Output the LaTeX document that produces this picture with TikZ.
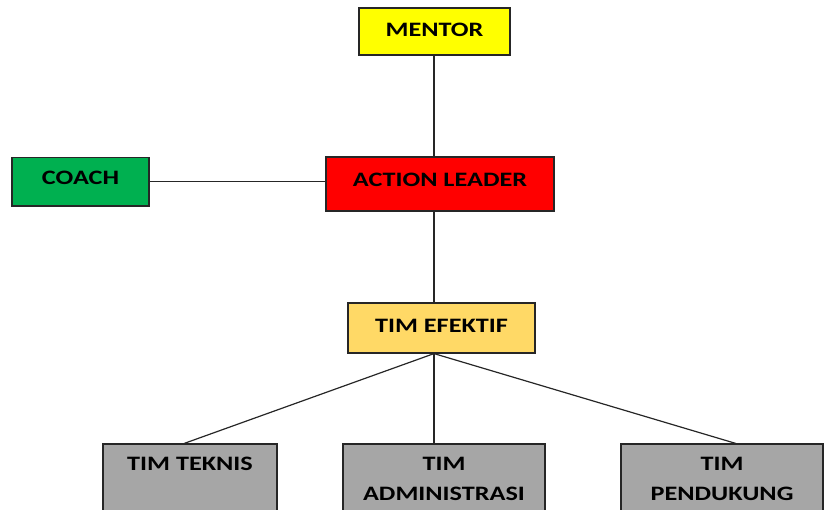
\documentclass[tikz,border=0pt]{standalone}
\usepackage{fontspec}
\usepackage{graphicx}
\setmainfont{Carlito}
\definecolor{cyel}{HTML}{FFFF00}
\definecolor{cgrn}{HTML}{00B050}
\definecolor{cred}{HTML}{FF0000}
\definecolor{cgold}{HTML}{FFD966}
\definecolor{cgry}{HTML}{A6A6A6}
\newcommand\wtx[1]{\scalebox{1.28}[1]{#1}}
\begin{document}
\begin{tikzpicture}[x=1pt,y=1pt,
  box/.style={draw=black!85, line width=1.2pt, rectangle, inner sep=0pt, font=\bfseries\fontsize{20.5}{30}\selectfont, align=center, text height=13.3pt, text depth=0pt},
  lowbox/.style={box, fill=cgry, anchor=north, minimum height=80pt, text height=, text depth=},
  link/.style={draw=black!85, line width=1.2pt}]
\useasboundingbox (0,0) rectangle (825,509);
\clip (0,0) rectangle (825,509);
\node[box, fill=cyel, minimum width=151pt, minimum height=47pt] (mentor) at (434.5,477.5) {\raisebox{2pt}{\wtx{MENTOR}}};
\node[box, fill=cgrn, minimum width=137pt, minimum height=48.7pt] (coach) at (80.5,327.3) {\raisebox{3.4pt}{\wtx{COACH}}};
\node[box, fill=cred, minimum width=228pt, minimum height=54pt] (leader) at (440,325) {\raisebox{4.5pt}{\wtx{ACTION LEADER}}};
\node[box, fill=cgold, minimum width=187pt, minimum height=50pt] (efektif) at (441.5,181) {\raisebox{2.5pt}{\wtx{TIM EFEKTIF}}};
\node[lowbox, minimum width=174pt] (teknis) at (190,65.5) {\parbox[c][80pt][t]{170pt}{\centering\vspace*{13.2pt}\wtx{TIM TEKNIS}}};
\node[lowbox, minimum width=202pt] (admin) at (444,65.5) {\parbox[c][80pt][t]{200pt}{\centering\vspace*{13.2pt}\wtx{TIM}\\\wtx{ADMINISTRASI}}};
\node[lowbox, minimum width=202pt] (pendukung) at (722,65.5) {\parbox[c][80pt][t]{200pt}{\centering\vspace*{13.2pt}\wtx{TIM}\\\wtx{PENDUKUNG}}};
\coordinate (lt) at (434,352);
\draw[link] (mentor.south -| lt) -- (leader.north -| lt);
\draw[link] (leader.south -| lt) -- (efektif.north -| lt);
\draw[link] (coach.east) -- (coach.east -| leader.west);
\coordinate (ef) at (efektif.south -| lt);
\draw[link] (ef) -- (teknis.north -| 184,0);
\draw[link] (ef) -- (admin.north -| lt);
\draw[link] (ef) -- (pendukung.north -| 736,0);
\end{tikzpicture}
\end{document}
